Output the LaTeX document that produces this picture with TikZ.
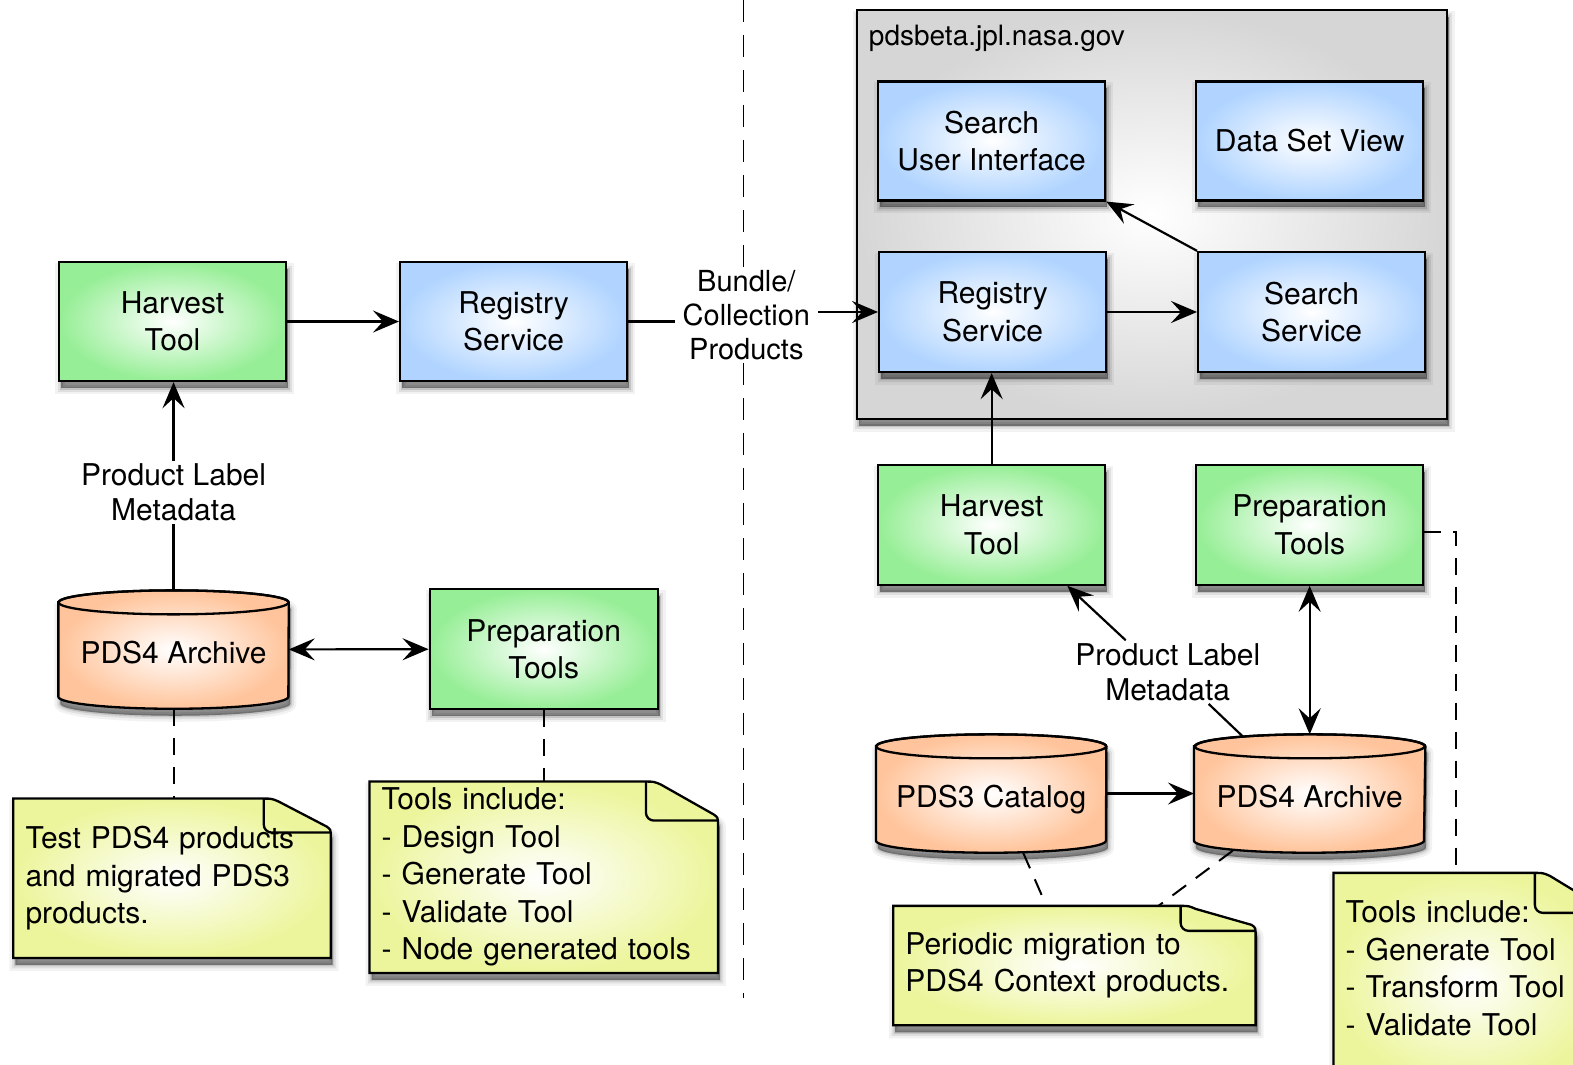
\documentclass[tikz,border=0pt]{standalone}
\usepackage{fontspec}
\setmainfont{TeX Gyre Heros}
\usetikzlibrary{arrows.meta,shadows,backgrounds}
\definecolor{gfill}{RGB}{150,238,150}
\definecolor{bfill}{RGB}{176,212,255}
\definecolor{ofill}{RGB}{255,196,155}
\definecolor{yfill}{RGB}{236,245,155}
\definecolor{hfill}{RGB}{214,214,214}
\tikzset{
  >={Stealth[length=26pt,width=22pt,inset=10pt]},
  shad/.style={
    general shadow={draw=black,line width=12pt,draw opacity=0.05,fill opacity=0,shadow xshift=2pt,shadow yshift=-7pt},
    general shadow={draw=black,line width=7pt,draw opacity=0.08,fill opacity=0,shadow xshift=2pt,shadow yshift=-7pt},
    general shadow={draw=black,line width=3pt,draw opacity=0.12,fill=black,fill opacity=0.42,shadow xshift=2pt,shadow yshift=-7pt}},
  txt/.style={font=\fontsize{30}{37.5}\selectfont},
  boxbase/.style={txt,draw=black,line width=2.3pt,inner sep=0pt,align=center,minimum width=227pt,minimum height=119pt,inner color=white,shad},
  greenbox/.style={boxbase,outer color=gfill},
  bluebox/.style={boxbase,outer color=bfill},
  hostbox/.style={draw=black,line width=2.3pt,inner sep=0pt,minimum width=590pt,minimum height=409pt,inner color=white,outer color=hfill,shad},
  cylnode/.style={txt,inner sep=0pt,minimum width=230pt,minimum height=118pt,text height=30pt,text depth=2pt},
  cylfill/.style={draw=black,line width=2.3pt,inner color=white,outer color=ofill,shad},
  notenode/.style={txt,align=left,inner xsep=12pt,inner ysep=0pt},
  notefill/.style={draw=black,line width=2.3pt,inner color=white,outer color=yfill,shad},
  lbl/.style={font=\fontsize{30}{35}\selectfont,align=center,inner xsep=8pt,inner ysep=3pt},
  conn/.style={line width=2.2pt},
  dline/.style={line width=2pt,dash pattern=on 17pt off 12pt},
  bigdash/.style={line width=1.6pt,dash pattern=on 22pt off 13pt},
}
\newcommand\cylshape[1]{%
\begin{scope}[on background layer]
\path[cylfill] ([yshift=-12pt]#1.north west) -- ([yshift=12pt]#1.south west)
  arc[start angle=180,end angle=360,x radius=115pt,y radius=12pt]
  -- ([yshift=-12pt]#1.north east)
  arc[start angle=0,end angle=180,x radius=115pt,y radius=12pt] -- cycle;
\draw[line width=2.3pt] ([yshift=-12pt]#1.north) ellipse[x radius=115pt,y radius=12pt];
\end{scope}}
\newcommand\noteshape[4]{%
\begin{scope}[on background layer]
\draw[notefill] ([yshift=-#4pt]#1.south west) -- (#1.north west) -- ([xshift=-#2pt]#1.north east)
  .. controls ([xshift=-#2pt+8pt]#1.north east) .. ([xshift=-#2pt+15pt,yshift=-3pt]#1.north east)
  -- ([xshift=-4pt,yshift=-#3pt+6pt]#1.north east)
  .. controls ([yshift=-#3pt+3pt]#1.north east) .. ([yshift=-#3pt-4pt]#1.north east)
  -- ([yshift=-#4pt]#1.south east) -- cycle;
\draw[line width=2.3pt,rounded corners=8pt] ([xshift=-#2pt]#1.north east) -- ([xshift=-#2pt,yshift=-#3pt]#1.north east) -- ([yshift=-#3pt]#1.north east);
\end{scope}}
\begin{document}
\begin{tikzpicture}[x=1.0032pt,y=-1.0032pt]
\useasboundingbox (0,0) rectangle (1568,1061);
\begin{scope}[on background layer]
\fill[white] (0,0) rectangle (1568,1061);
\end{scope}
\coordinate (dtop) at (741,0);
\coordinate (dbot) at (741,995);

% left side
\node[greenbox] (hL) at (172,320.5) {Harvest\\Tool};
\node[bluebox] (rL) at (512,320.5) {Registry\\Service};
\node[lbl] (plm1) at (173,491) {Product Label\\Metadata};
\node[cylnode] (cylL) at (173,647.5) {PDS4 Archive};
\cylshape{cylL}
\node[greenbox,minimum width=228pt,minimum height=120pt] (pL) at (542,647) {Preparation\\Tools};
\node[notenode,text width=293pt,minimum height=159pt] (n1) at (171.5,875.5) {Test PDS4 products\\and migrated PDS3\\products.};
\noteshape{n1}{67}{34}{0}
\node[notenode,text width=324pt,minimum height=191pt] (n2) at (542,874.5) {Tools include:\\- Design Tool\\- Generate Tool\\- Validate Tool\\- Node generated tools};
\noteshape{n2}{72}{39}{0}

% middle label
\node[lbl,font=\fontsize{29}{34}\selectfont] (bcp) at (744,314) {Bundle/\\Collection\\Products};

% host
\node[hostbox] (host) at (1148,213.5) {};
\node[anchor=west,inner sep=0pt,font=\fontsize{28}{34}\selectfont] (hosttitle) at (866,38) {pdsbeta.jpl.nasa.gov};
\node[bluebox] (sui) at (988.5,140.5) {Search\\User Interface};
\node[bluebox] (dsv) at (1305.5,140.5) {Data Set View};
\node[bluebox,minimum height=120pt] (rR) at (989.5,311) {Registry\\Service};
\node[bluebox,minimum height=120pt] (ss) at (1307.5,311) {Search\\Service};

% right lower
\node[greenbox,minimum height=120pt] (hR) at (988.5,523) {Harvest\\Tool};
\node[greenbox,minimum height=120pt] (pR) at (1305.5,523) {Preparation\\Tools};
\node[lbl] (plm2) at (1164,670) {Product Label\\Metadata};
\node[cylnode] (cyl3) at (988,791) {PDS3 Catalog};
\cylshape{cyl3}
\node[cylnode,minimum width=231pt] (cyl4) at (1305.5,791) {PDS4 Archive};
\cylshape{cyl4}
\node[notenode,text width=338pt,minimum height=119pt] (mig) at (1071,962.5) {Periodic migration to\\PDS4 Context products.};
\noteshape{mig}{75}{25}{0}
\node[notenode,text width=247pt,minimum height=190pt] (n3) at (1464.5,965) {Tools include:\\- Generate Tool\\- Transform Tool\\- Validate Tool};
\noteshape{n3}{70}{40}{25}

% connectors
\draw[conn,->] (hL) -- (rL);
\draw[conn] (rL.east) -- (rL.east -| bcp.west);
\draw[conn,->] (bcp.east |- rR.west) -- (rR.west);
\draw[bigdash] (dtop) -- (dtop |- bcp.north);
\draw[bigdash] (dtop |- bcp.south) -- (dbot);
\draw[conn,->] (plm1.north) -- (plm1.north |- hL.south);
\draw[conn] (cylL.north) -- (cylL.north |- plm1.south);
\draw[conn,<->] (cylL) -- (pL);
\draw[dline] (cylL.south) -- (cylL.south |- n1.north);
\draw[dline] (pL.south) -- (pL.south |- n2.north);

\draw[conn,->] (rR) -- (ss);
\draw[conn,->] (ss.north west) -- (sui.south east);
\draw[conn,->] (hR.north) -- (hR.north |- rR.south);
\draw[conn,->] ([xshift=-42pt]plm2.north) -- ([xshift=-39pt]hR.south east);
\draw[conn] ([xshift=41pt]plm2.south) -- ([xshift=-67pt,yshift=-2pt]cyl4.north);
\draw[conn,<->] (pR.south) -- (cyl4.north);
\draw[conn,->] (cyl3) -- (cyl4);
\draw[dline] ([xshift=32pt]cyl3.south) -- ([xshift=-28pt]mig.north);
\draw[dline] ([xshift=-77pt,yshift=2pt]cyl4.south) -- ([xshift=84pt]mig.north);
\draw[dline] ([yshift=-7pt]pR.east) -| ([xshift=123pt]n3.north west);
\end{tikzpicture}
\end{document}
